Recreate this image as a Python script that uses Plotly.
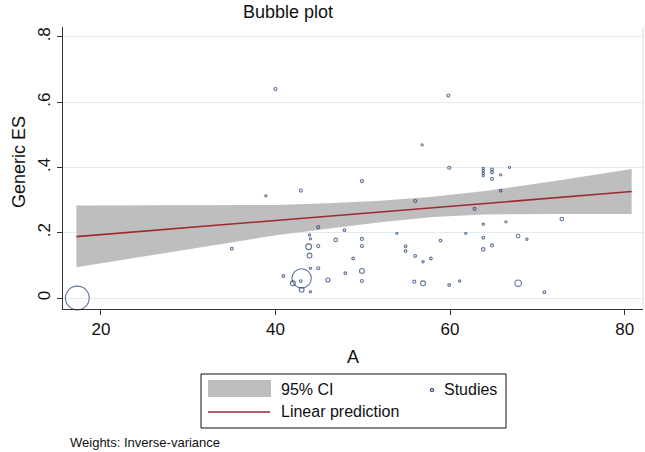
import numpy as np
import plotly.graph_objects as go

# ---------------- data ----------------
study_a = [17.3, 35.0, 38.9, 40.0, 40.9, 42.0, 42.9, 43.0, 42.9, 43.0,
           43.8, 43.9, 43.9, 44.0, 44.0, 44.0, 44.9, 44.9, 44.9, 46.0,
           46.9, 47.9, 48.0, 48.9, 49.9, 49.9, 49.9, 49.9, 49.9, 53.9,
           54.9, 54.9, 55.9, 56.0, 56.0, 56.8, 56.9, 56.9, 57.8, 58.9,
           59.8, 59.9, 59.9, 61.1, 61.8, 62.8, 63.8, 63.8, 63.8, 63.8,
           63.8, 63.8, 63.8, 64.8, 64.8, 64.8, 64.8, 65.8, 65.8, 66.4,
           66.8, 67.8, 67.8, 68.8, 70.8, 72.8]
study_es = [0.000, 0.151, 0.313, 0.640, 0.068, 0.045, 0.329, 0.060, 0.052, 0.025,
            0.157, 0.130, 0.193, 0.181, 0.091, 0.019, 0.217, 0.159, 0.091, 0.055,
            0.178, 0.208, 0.076, 0.121, 0.358, 0.181, 0.159, 0.083, 0.052, 0.198,
            0.159, 0.144, 0.050, 0.297, 0.129, 0.469, 0.111, 0.045, 0.121, 0.176,
            0.620, 0.399, 0.040, 0.052, 0.198, 0.273, 0.397, 0.390, 0.382, 0.375,
            0.226, 0.185, 0.149, 0.394, 0.385, 0.365, 0.161, 0.377, 0.329, 0.233,
            0.400, 0.190, 0.045, 0.180, 0.018, 0.242]
study_weight = [169, 1.6, 1.0, 2.2, 1.6, 6.0, 2.2, 110, 1.6, 6.0,
                9.0, 6.0, 1.0, 1.0, 1.0, 1.0, 2.2, 2.2, 2.2, 4.0,
                3.0, 1.6, 1.6, 1.6, 2.2, 2.2, 2.2, 6.0, 2.2, 1.0,
                1.6, 1.6, 2.2, 2.2, 1.6, 1.0, 1.0, 6.0, 1.6, 1.6,
                2.2, 2.2, 1.6, 1.0, 1.0, 2.2, 1.0, 1.0, 1.0, 1.0,
                1.0, 1.6, 3.0, 1.6, 1.6, 2.2, 2.2, 1.0, 1.6, 1.0,
                1.0, 3.0, 12.0, 1.0, 1.6, 3.0]

ci_a = [17.2, 30.0, 40.0, 46.0, 52.0, 58.0, 64.0, 72.0, 80.8]
ci_upper = [0.283, 0.283, 0.285, 0.290, 0.298, 0.310, 0.328, 0.358, 0.395]
ci_lower = [0.094, 0.150, 0.192, 0.212, 0.232, 0.248, 0.256, 0.257, 0.257]

fit_a = [17.2, 80.8]
fit_es = [0.188, 0.326]

x_ticks = [20, 40, 60, 80]
y_ticks = [0, 0.2, 0.4, 0.6, 0.8]
y_tick_labels = ["0", ".2", ".4", ".6", ".8"]

# ---------------- layout geometry ----------------
W, H = 645, 452
L, R, T, B = 63, 2, 27, 143
PW, PH = W - L - R, H - T - B
FONT = "Liberation Sans, Arial, sans-serif"
NAVY = "#1c3a6e"
RED = "#9e2a2f"
GRAY = "#bebebe"


def px(x):
    return (x - L) / PW


def py(y):
    return (H - B - y) / PH


sizes = 1.8 * np.sqrt(np.array(study_weight)) + 0.4

fig = go.Figure()
fig.add_trace(go.Scatter(x=ci_a, y=ci_lower, mode="lines", line=dict(width=0),
                         showlegend=False, hoverinfo="skip"))
fig.add_trace(go.Scatter(x=ci_a, y=ci_upper, mode="lines", line=dict(width=0),
                         fill="tonexty", fillcolor=GRAY, showlegend=False,
                         hoverinfo="skip"))
fig.add_trace(go.Scatter(x=fit_a, y=fit_es, mode="lines",
                         line=dict(color=RED, width=1.6), showlegend=False))
fig.add_trace(go.Scatter(x=study_a, y=study_es, mode="markers", cliponaxis=False,
                         marker=dict(symbol="circle-open", size=sizes, color=NAVY,
                                     line=dict(width=1.1, color=NAVY)),
                         showlegend=False))

fig.update_layout(
    width=W, height=H,
    margin=dict(l=L, r=R, t=T, b=B, pad=0),
    paper_bgcolor="white", plot_bgcolor="white",
    font=dict(family=FONT, color="#111111"),
    showlegend=False,
    xaxis=dict(range=[15.66, 82.1], tickvals=x_ticks, ticks="outside", ticklen=5,
               tickcolor="#333333", showline=True, linecolor="#333333", linewidth=1,
               showgrid=False, zeroline=False, tickfont=dict(size=17, family=FONT)),
    yaxis=dict(range=[-0.0337, 0.830], tickvals=y_ticks, ticktext=y_tick_labels,
               ticks="outside", ticklen=5, tickcolor="#333333", tickangle=-90,
               showline=True, linecolor="#333333", linewidth=1,
               showgrid=True, gridcolor="#e2ecef", gridwidth=1, zeroline=False,
               tickfont=dict(size=17, family=FONT)),
)

shapes = [
    dict(type="line", xref="paper", yref="paper", x0=1, x1=1, y0=0, y1=1,
         line=dict(color="#dcdcdc", width=1)),
    # legend
    dict(type="rect", xref="paper", yref="paper", x0=px(201), x1=px(506),
         y0=py(428), y1=py(374), line=dict(color="#111111", width=1),
         fillcolor="white"),
    dict(type="rect", xref="paper", yref="paper", x0=px(208), x1=px(271),
         y0=py(397), y1=py(380), line=dict(width=0), fillcolor=GRAY),
    dict(type="line", xref="paper", yref="paper", x0=px(208), x1=px(270),
         y0=py(412), y1=py(412), line=dict(color=RED, width=1.6)),
    dict(type="circle", xref="paper", yref="paper", x0=px(430.5), x1=px(433.5),
         y0=py(391.5), y1=py(388.5), line=dict(color=NAVY, width=1.2)),
]
fig.update_layout(shapes=shapes)

ann = [
    dict(text="Bubble plot", x=px(287.5), y=py(12), size=18, xanchor="center"),
    dict(text="A", x=px(353), y=py(357), size=18, xanchor="center"),
    dict(text="95% CI", x=px(279), y=py(389), size=16, xanchor="left"),
    dict(text="Studies", x=px(442), y=py(389), size=16, xanchor="left"),
    dict(text="Linear prediction", x=px(279), y=py(411), size=16, xanchor="left"),
    dict(text="Weights: Inverse-variance", x=px(68), y=py(442), size=13,
         xanchor="left"),
]
for a in ann:
    fig.add_annotation(text=a["text"], x=a["x"], y=a["y"], xref="paper",
                       yref="paper", xanchor=a["xanchor"], yanchor="middle",
                       showarrow=False, font=dict(size=a["size"], family=FONT,
                                                  color="#111111"))
fig.add_annotation(text="Generic ES", x=px(19), y=py(162), xref="paper",
                   yref="paper", xanchor="center", yanchor="middle", textangle=-90,
                   showarrow=False, font=dict(size=18, family=FONT, color="#111111"))

fig.write_html("out.html", config={"displayModeBar": False},
               post_script="document.body.style.margin='0';"
                           "document.body.style.overflow='hidden';")
